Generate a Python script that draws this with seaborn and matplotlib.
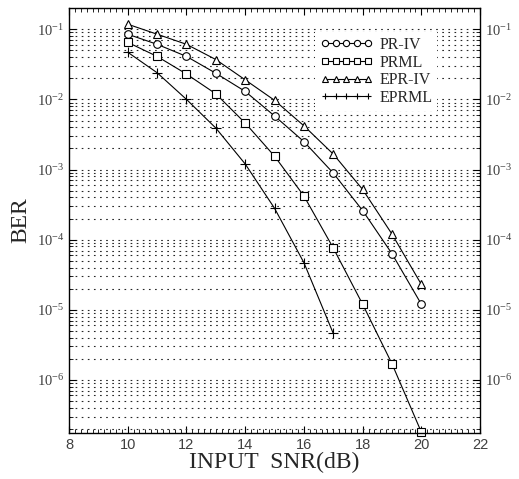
import matplotlib
matplotlib.use('Agg')
import matplotlib.pyplot as plt
import matplotlib.ticker as mticker
import seaborn as sns
import pandas as pd
import numpy as np

# values
snr = [10, 11, 12, 13, 14, 15, 16, 17, 18, 19, 20]
snr_eprml = [10, 11, 12, 13, 14, 15, 16, 17]
ber_pr4 = [0.085, 0.061, 0.041, 0.0236, 0.013, 5.8e-3, 2.5e-3, 8.9e-4, 2.6e-4, 6.3e-5, 1.2e-5]
ber_prml = [0.065, 0.041, 0.023, 0.012, 4.6e-3, 1.55e-3, 4.2e-4, 7.6e-5, 1.2e-5, 1.7e-6, 1.8e-7]
ber_epr4 = [0.118, 0.085, 0.061, 0.037, 0.019, 0.0097, 0.0042, 1.66e-3, 5.2e-4, 1.2e-4, 2.3e-5]
ber_eprml = [0.047, 0.024, 0.010, 3.9e-3, 1.2e-3, 2.8e-4, 4.7e-5, 4.6e-6]

series = ['PR-IV', 'PRML', 'EPR-IV', 'EPRML']
markers = {'PR-IV': 'o', 'PRML': 's', 'EPR-IV': '^', 'EPRML': '+'}

df = pd.concat([
    pd.DataFrame({'SNR': snr, 'BER': ber_pr4, 'Scheme': 'PR-IV'}),
    pd.DataFrame({'SNR': snr, 'BER': ber_prml, 'Scheme': 'PRML'}),
    pd.DataFrame({'SNR': snr, 'BER': ber_epr4, 'Scheme': 'EPR-IV'}),
    pd.DataFrame({'SNR': snr_eprml, 'BER': ber_eprml, 'Scheme': 'EPRML'}),
], ignore_index=True)

sns.set_style('ticks')
plt.rcParams['font.family'] = ['Liberation Serif', 'DejaVu Serif']
plt.rcParams['mathtext.fontset'] = 'custom'
plt.rcParams['mathtext.rm'] = 'Liberation Sans'
plt.rcParams['mathtext.default'] = 'rm'

fig = plt.figure(figsize=(5.19, 4.79), dpi=100)
ax = fig.add_axes([0.133, 0.096, 0.792, 0.887])

for name in series:
    sub = df[df['Scheme'] == name]
    sns.lineplot(data=sub, x='SNR', y='BER', ax=ax, color='black', lw=0.8,
                 marker=markers[name], markersize=5.5 if name != 'EPRML' else 6.5,
                 mfc='white', mec='black', mew=0.8, label=name)

for ln in ax.get_lines():
    ln.set_clip_on(False)

ax.set_yscale('log')
ax.set_xlim(8, 22)
ax.set_ylim(1.75e-7, 0.2)
ax.xaxis.set_major_locator(mticker.MultipleLocator(2))
ax.xaxis.set_minor_locator(mticker.MultipleLocator(0.2))
ax.yaxis.set_major_locator(mticker.FixedLocator([1e-6, 1e-5, 1e-4, 1e-3, 1e-2, 1e-1]))
ax.yaxis.set_minor_locator(mticker.LogLocator(base=10, subs=np.arange(2, 10), numticks=12))
ax.yaxis.set_minor_formatter(mticker.NullFormatter())
ax.yaxis.set_major_formatter(mticker.LogFormatterSciNotation())

ax.tick_params(which='both', direction='in', top=True, right=True, labelright=True, colors='black')
ax.tick_params(which='major', length=5, width=0.8, labelsize=10.5, labelcolor='0.25')
ax.tick_params(which='minor', length=3, width=0.6)
for lab in ax.get_xticklabels():
    lab.set_fontfamily('Liberation Sans')

ax.grid(True, axis='y', which='both', color='0.15', linestyle=(0, (1.5, 4)), lw=0.8)
for sp in ax.spines.values():
    sp.set_linewidth(1.0)
    sp.set_color('black')

ax.set_xlabel('INPUT  SNR(dB)', fontsize=17, labelpad=0)
ax.set_ylabel('BER', fontsize=17, labelpad=4)

leg = ax.legend(loc='upper right', bbox_to_anchor=(0.915, 0.962), numpoints=5,
                handlelength=3.3, handletextpad=0.4, labelspacing=0.1,
                fontsize=11.5, frameon=True, fancybox=False, borderpad=0.3)
leg.get_frame().set_facecolor('white')
leg.get_frame().set_edgecolor('none')
leg.get_frame().set_alpha(1)
for h in leg.legend_handles:
    h.set_markersize(4.5)

plt.savefig('out.png', dpi=100)
plt.close()
